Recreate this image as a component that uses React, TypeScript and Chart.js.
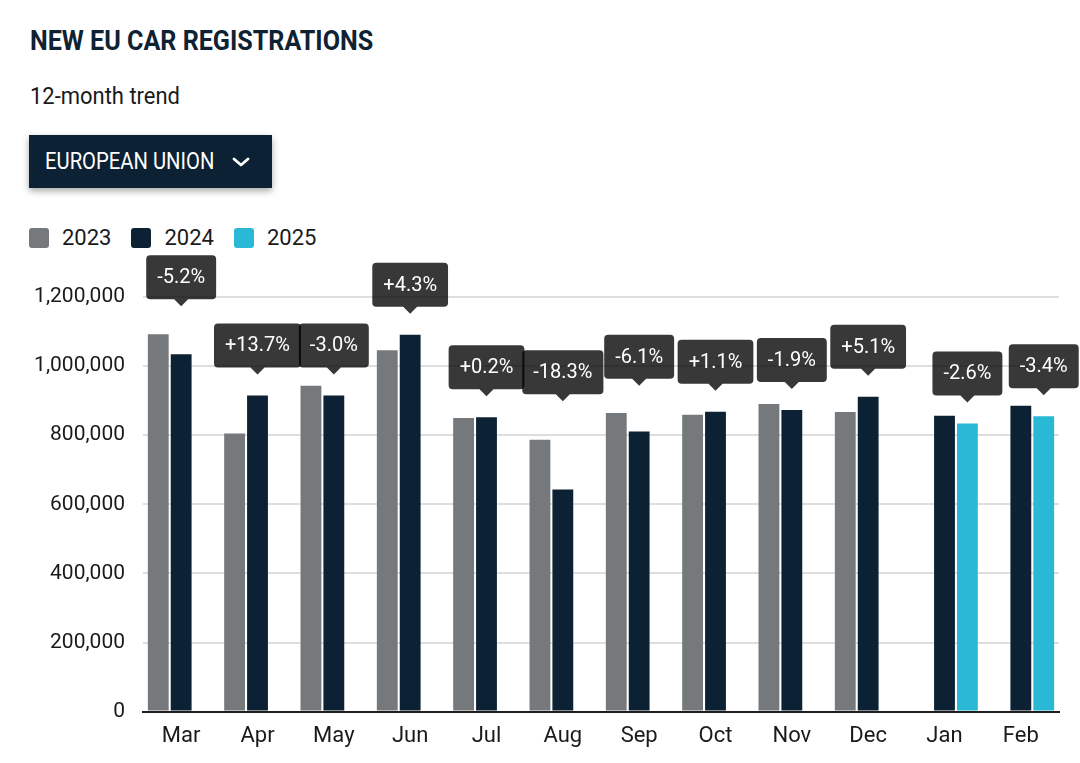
import React, { useEffect, useRef } from "react";
import { Chart, registerables } from "chart.js";

Chart.register(...registerables);

const months = ["Mar", "Apr", "May", "Jun", "Jul", "Aug", "Sep", "Oct", "Nov", "Dec", "Jan", "Feb"];
const values2023 = [1092000, 805000, 943000, 1046000, 850000, 787000, 864000, 859000, 890000, 867000, null, null];
const values2024 = [1034000, 915000, 915000, 1091000, 852000, 643000, 811000, 868000, 873000, 911000, 856000, 885000];
const values2025 = [null, null, null, null, null, null, null, null, null, null, 834000, 855000];
const changeLabels = ["-5.2%", "+13.7%", "-3.0%", "+4.3%", "+0.2%", "-18.3%", "-6.1%", "+1.1%", "-1.9%", "+5.1%", "-2.6%", "-3.4%"];
const seriesNames = ["2023", "2024", "2025"];
const seriesColors = ["#76797b", "#0c2133", "#29b8d5"];
const seriesValues = [values2023, values2024, values2025];

const FONT = "Roboto, 'Noto Sans', sans-serif";

const changeLabelPlugin = {
  id: "changeLabels",
  afterDatasetsDraw(chart: any) {
    const ctx = chart.ctx as CanvasRenderingContext2D;
    const n = chart.data.labels.length;
    ctx.save();
    ctx.font = `400 20px ${FONT}`;
    for (let i = 0; i < n; i++) {
      const present: any[] = [];
      chart.data.datasets.forEach((ds: any, d: number) => {
        if (ds.data[i] !== null && ds.data[i] !== undefined) {
          present.push(chart.getDatasetMeta(d).data[i]);
        }
      });
      if (present.length === 0) continue;
      const cur = present[present.length - 1];
      const prev = present.length > 1 ? present[present.length - 2] : cur;
      const diff = cur.y - prev.y;
      const extra = diff > 12 ? diff * 1.35 : 0;
      const tipY = cur.y - 21 - extra;
      const text = changeLabels[i];
      const tw = ctx.measureText(text).width;
      const w = tw + 22;
      const h = 44;
      const ph = 7;
      const pw = 7;
      const x0 = cur.x - w / 2;
      const yBottom = tipY - ph;
      const y0 = yBottom - h;
      const r = 4;
      ctx.fillStyle = "rgba(0,0,0,0.78)";
      ctx.beginPath();
      ctx.moveTo(x0 + r, y0);
      ctx.lineTo(x0 + w - r, y0);
      ctx.quadraticCurveTo(x0 + w, y0, x0 + w, y0 + r);
      ctx.lineTo(x0 + w, yBottom - r);
      ctx.quadraticCurveTo(x0 + w, yBottom, x0 + w - r, yBottom);
      ctx.lineTo(cur.x + pw, yBottom);
      ctx.lineTo(cur.x, tipY);
      ctx.lineTo(cur.x - pw, yBottom);
      ctx.lineTo(x0 + r, yBottom);
      ctx.quadraticCurveTo(x0, yBottom, x0, yBottom - r);
      ctx.lineTo(x0, y0 + r);
      ctx.quadraticCurveTo(x0, y0, x0 + r, y0);
      ctx.closePath();
      ctx.fill();
      ctx.fillStyle = "#ffffff";
      ctx.textAlign = "center";
      ctx.textBaseline = "middle";
      ctx.fillText(text, cur.x, y0 + h / 2 + 1);
    }
    ctx.restore();
  },
};

export default function App() {
  const canvasRef = useRef<HTMLCanvasElement | null>(null);

  useEffect(() => {
    document.body.style.margin = "0";
    const canvas = canvasRef.current;
    if (!canvas) return;
    const chart = new Chart(canvas, {
      type: "bar",
      data: {
        labels: months,
        datasets: seriesNames.map((name, k) => ({
          label: name,
          data: seriesValues[k],
          backgroundColor: seriesColors[k],
          borderWidth: 0,
          categoryPercentage: 0.9,
          barPercentage: 0.91,
        })),
      },
      options: {
        animation: false,
        responsive: true,
        maintainAspectRatio: false,
        layout: { padding: { top: 47, right: 21, bottom: 1, left: 0 } },
        plugins: {
          legend: { display: false },
          tooltip: { enabled: false },
        },
        scales: {
          x: {
            grid: { display: false, drawTicks: false },
            border: { display: true, color: "#1e1e1e", width: 2 },
            ticks: {
              color: "#1a1a1a",
              padding: 12,
              font: { family: FONT, size: 22, lineHeight: 1.2 },
            },
          },
          y: {
            min: 0,
            max: 1200000,
            afterFit(scale: any) {
              scale.width = 143;
            },
            grid: { color: "#dedede", lineWidth: 2, drawTicks: false },
            border: { display: false },
            ticks: {
              stepSize: 200000,
              color: "#1a1a1a",
              padding: 18,
              font: { family: FONT, size: 21 },
              callback: (v: any) => Number(v).toLocaleString("en-US"),
            },
          },
        },
      } as any,
      plugins: [changeLabelPlugin],
    });
    return () => chart.destroy();
  }, []);

  return (
    <div style={{ position: "relative", width: 1080, height: 763, background: "#fff", overflow: "hidden", fontFamily: FONT }}>
      <div
        style={{
          position: "absolute",
          left: 30,
          top: 24,
          fontSize: 28,
          fontWeight: 700,
          color: "#0f2233",
          whiteSpace: "nowrap",
          transform: "scaleX(0.897)",
          transformOrigin: "left center",
          lineHeight: "34px",
        }}
      >
        NEW EU CAR REGISTRATIONS
      </div>
      <div
        style={{
          position: "absolute",
          left: 30,
          top: 82,
          fontSize: 23,
          color: "#1a1a1a",
          whiteSpace: "nowrap",
          transform: "scaleX(0.955)",
          transformOrigin: "left center",
          lineHeight: "30px",
        }}
      >
        12-month trend
      </div>
      <div
        style={{
          position: "absolute",
          left: 29,
          top: 135,
          width: 243,
          height: 53,
          background: "#0c2133",
          boxShadow: "0 3px 7px rgba(0,0,0,0.35)",
        }}
      >
        <div
          style={{
            position: "absolute",
            left: 16,
            top: 12,
            fontSize: 23,
            color: "#ffffff",
            whiteSpace: "nowrap",
            transform: "scaleX(0.88)",
            transformOrigin: "left center",
            lineHeight: "30px",
          }}
        >
          EUROPEAN UNION
        </div>
        <svg style={{ position: "absolute", left: 203, top: 21 }} width="18" height="12" viewBox="0 0 18 12">
          <polyline points="2,3 9,9 16,3" fill="none" stroke="#ffffff" strokeWidth="2.8" strokeLinecap="round" strokeLinejoin="round" />
        </svg>
      </div>
      <div style={{ position: "absolute", left: 29, top: 225, display: "flex", alignItems: "center", height: 26 }}>
        {seriesNames.map((name, k) => (
          <div key={name} style={{ display: "flex", alignItems: "center", marginRight: 20 }}>
            <div style={{ width: 20, height: 20, borderRadius: 3, background: seriesColors[k], marginRight: 13 }} />
            <span style={{ fontSize: 22, color: "#1a1a1a", lineHeight: "26px" }}>{name}</span>
          </div>
        ))}
      </div>
      <div style={{ position: "absolute", left: 0, top: 250, width: 1080, height: 513 }}>
        <canvas ref={canvasRef} />
      </div>
    </div>
  );
}
